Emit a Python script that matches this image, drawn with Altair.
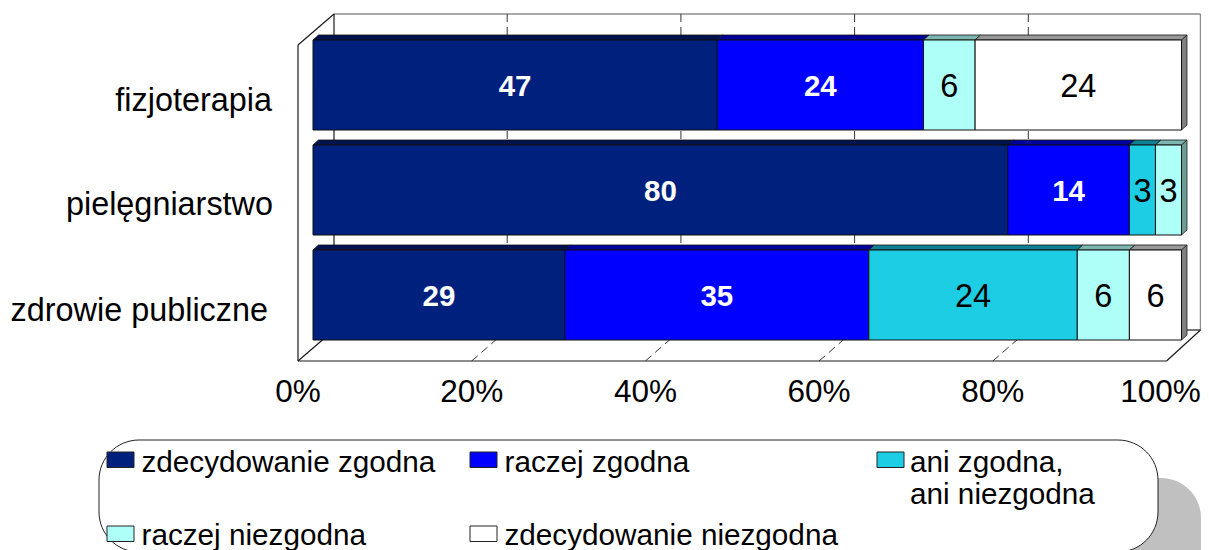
import altair as alt
import pandas as pd

categories = ["fizjoterapia", "pielęgniarstwo", "zdrowie publiczne"]
series = ["zdecydowanie zgodna", "raczej zgodna", "ani zgodna, ani niezgodna",
          "raczej niezgodna", "zdecydowanie niezgodna"]
values = {
    "zdecydowanie zgodna": [47, 80, 29],
    "raczej zgodna": [24, 14, 35],
    "ani zgodna, ani niezgodna": [0, 3, 24],
    "raczej niezgodna": [6, 3, 6],
    "zdecydowanie niezgodna": [24, 0, 6],
}
front_colors = ["#00207D", "#0000FF", "#1CCDE3", "#AFFFF9", "#FFFFFF"]
top_colors = ["#00124F", "#00009C", "#0F7F92", "#7DB5B0", "#999999"]
side_colors = ["#00103F", "#000080", "#0C6675", "#6C9C97", "#808080"]
label_colors = ["white", "white", "black", "black", "black"]
label_weights = ["bold", "bold", "normal", "normal", "normal"]
label_sizes = {"bold": 29.5, "normal": 32.5}
ticks = [0, 20, 40, 60, 80, 100]
tick_labels = ["0%", "20%", "40%", "60%", "80%", "100%"]

FONT = "Liberation Sans"
PX = 8.685  # px per percent


def X(px):
    return (px - 313) / PX


def Y(py):
    return (py - 85) / 105


xs = alt.Scale(domain=[0, 100], range=[305, 1173.5], nice=False, zero=False)
ys = alt.Scale(domain=[Y(8), Y(550)], range=[0, 542], nice=False, zero=False)
color_scale = alt.Scale(domain=series, range=front_colors)
xq = lambda f: alt.X(f, type="quantitative", scale=xs, axis=None, stack=None)
yq = lambda f: alt.Y(f, type="quantitative", scale=ys, axis=None, stack=None)

half = 45 / 105
dep_x = 5.5 / PX
dep_y = 5 / 105

segs, tops, sides = [], [], []
for r, cat in enumerate(categories):
    row = [values[s][r] for s in series]
    total = sum(row)
    cum = 0
    last = max(i for i, v in enumerate(row) if v > 0)
    for i, s in enumerate(series):
        v = row[i]
        if v == 0:
            continue
        a = cum / total * 100
        cum += v
        b = cum / total * 100
        segs.append(dict(cat=cat, series=s, value=v, a=a, b=b, mid=(a + b) / 2,
                         y0=r - half, y1=r + half, row=r,
                         tc=label_colors[i], w=label_weights[i]))
        key = f"{r}-{i}"
        tops += [
            dict(key=key, x=a, x2=b, y=r - half, fill=top_colors[i]),
            dict(key=key, x=a + dep_x, x2=b + dep_x, y=r - half - dep_y, fill=top_colors[i]),
        ]
        if i == last:
            sides += [
                dict(key=key, x=b, y=r - half, y2=r + half, fill=side_colors[i]),
                dict(key=key, x=b + dep_x, y=r - half - dep_y, y2=r + half - dep_y, fill=side_colors[i]),
            ]
segs = pd.DataFrame(segs)
tops = pd.DataFrame(tops)
sides = pd.DataFrame(sides)

# frame of the 3-D box
frame_solid = pd.DataFrame([
    dict(x=X(298), x2=X(298), y=Y(45), y2=Y(361)),
    dict(x=X(298), x2=X(334), y=Y(45), y2=Y(14)),
    dict(x=X(334), x2=X(334), y=Y(14), y2=Y(340)),
    dict(x=X(298), x2=X(1166.5), y=Y(361), y2=Y(361)),
    dict(x=X(298), x2=X(334), y=Y(361), y2=Y(330)),
    dict(x=X(1166.5), x2=X(1200.5), y=Y(361), y2=Y(330)),
    dict(x=X(1181), x2=X(1200.5), y=Y(330), y2=Y(330)),
])
frame_grey = pd.DataFrame([
    dict(x=X(334), x2=X(1200.5), y=Y(14), y2=Y(14)),
    dict(x=X(1200.5), x2=X(1200.5), y=Y(14), y2=Y(330)),
])
grid = pd.DataFrame(
    [dict(x=t + 20.5 / PX, x2=t + 20.5 / PX, y=Y(14), y2=Y(330)) for t in ticks[1:]]
    + [dict(x=t - 15 / PX, x2=t + 20.5 / PX, y=Y(361), y2=Y(330)) for t in ticks[1:-1]]
)


def rules(df, **kw):
    return alt.Chart(df).mark_rule(**kw).encode(
        x=xq("x"), x2="x2", y=yq("y"), y2="y2")


shadow = alt.Chart(pd.DataFrame([dict(x=X(142), x2=X(1201), y=Y(478), y2=Y(589))])).mark_rect(
    cornerRadius=40, fill="#C0C0C0", clip=True
).encode(x=xq("x"), x2="x2", y=yq("y"), y2="y2")
legend_box = alt.Chart(pd.DataFrame([dict(x=X(99), x2=X(1158), y=Y(440), y2=Y(552))])).mark_rect(
    cornerRadius=40, fill="white", stroke="#222222", strokeWidth=1, clip=True
).encode(x=xq("x"), x2="x2", y=yq("y"), y2="y2")

top_faces = alt.Chart(tops).mark_area(orient="horizontal", stroke="#111111", strokeWidth=0.8).encode(
    x=xq("x"), x2="x2", y=yq("y"), detail="key:N", fill=alt.Fill("fill:N", scale=None))
side_faces = alt.Chart(sides).mark_area(orient="vertical", stroke="#222222", strokeWidth=0.8).encode(
    x=xq("x"), y=yq("y"), y2="y2", detail="key:N", fill=alt.Fill("fill:N", scale=None))
bars = alt.Chart(segs).mark_rect(stroke="#111111", strokeWidth=1).encode(
    x=xq("a"), x2="b", y=yq("y0"), y2="y1",
    color=alt.Color("series:N", scale=color_scale, legend=None))


def value_layer(weight):
    return alt.Chart(segs[segs.w == weight]).mark_text(
        font=FONT, fontSize=label_sizes[weight], baseline="middle", align="center",
        fontWeight=weight, dy=2
    ).encode(x=xq("mid"), y=yq("row"), text="value:Q", color=alt.Color("tc:N", scale=None))


# the last label is pulled in a little so that it stays inside the page
tick_df = pd.DataFrame(dict(t=[t - (6 / PX if t == 100 else 0) for t in ticks],
                            label=tick_labels, y=[Y(402)] * len(ticks)))
tick_text = alt.Chart(tick_df).mark_text(font=FONT, fontSize=31.5, dx=-15, baseline="alphabetic",
                                         align="center", color="black").encode(
    x=xq("t"), y=yq("y"), text="label:N")

cat_df = pd.DataFrame(dict(cat=categories, x=[X(272), X(273), X(268)],
                           y=[Y(111), Y(215), Y(321)]))
cat_text = alt.Chart(cat_df).mark_text(font=FONT, fontSize=32.4, baseline="alphabetic", align="right",
                                       color="black").encode(
    x=xq("x"), y=yq("y"), text="cat:N")

leg_col = [107, 470, 877, 107, 470]
leg_row = [452, 452, 452, 526, 526]
swatch_df = pd.DataFrame(dict(series=series,
                              x=[X(p) for p in leg_col], x2=[X(p + 27) for p in leg_col],
                              y=[Y(p) for p in leg_row], y2=[Y(p + 15.5) for p in leg_row]))
swatches = alt.Chart(swatch_df).mark_rect(stroke="#222222", strokeWidth=1).encode(
    x=xq("x"), x2="x2", y=yq("y"), y2="y2",
    color=alt.Color("series:N", scale=color_scale, legend=None))

leg_text_df = pd.DataFrame(dict(
    text=["zdecydowanie zgodna", "raczej zgodna", "ani zgodna,", "ani niezgodna",
          "raczej niezgodna", "zdecydowanie niezgodna"],
    x=[X(141.5), X(504.5), X(910), X(910), X(141.5), X(504.5)],
    y=[Y(472), Y(472), Y(472), Y(504), Y(545), Y(545)],
))
leg_text = alt.Chart(leg_text_df).mark_text(font=FONT, fontSize=29.7, baseline="alphabetic", align="left",
                                            color="black").encode(
    x=xq("x"), y=yq("y"), text="text:N")

chart = alt.layer(
    shadow, legend_box,
    rules(frame_grey, color="#8C8C8C", strokeWidth=1.5),
    rules(frame_solid, color="#1A1A1A", strokeWidth=1.2),
    rules(grid, color="#333333", strokeWidth=1, strokeDash=[8, 5]),
    top_faces, side_faces, bars, value_layer("bold"), value_layer("normal"),
    tick_text, cat_text, swatches, leg_text,
).properties(
    width=1193, height=542, padding=0, background="white",
    autosize=alt.AutoSizeParams(type="none"),
).configure_view(stroke=None)

chart.save("out.html", embed_options={"renderer": "svg", "actions": False})
